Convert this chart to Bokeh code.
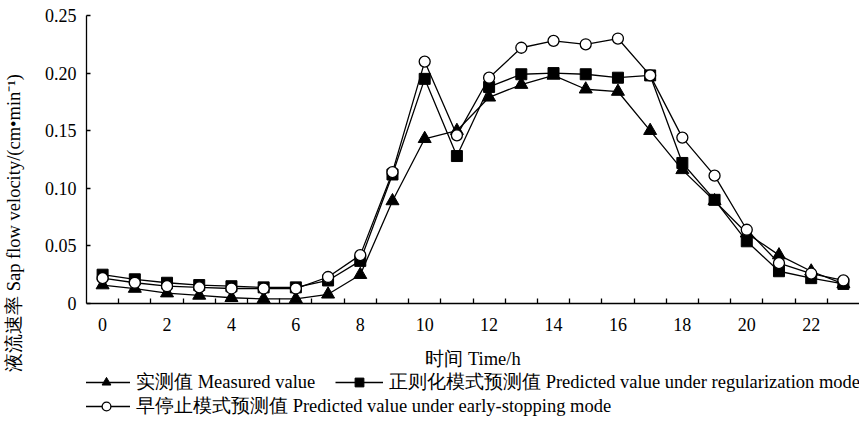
from bokeh.plotting import figure
from bokeh.models import FixedTicker, Legend, LegendItem, Range1d
from bokeh.embed import file_html
from bokeh.resources import INLINE

# ---- data ----
hours = list(range(24))
measured = [0.016, 0.013, 0.009, 0.007, 0.005, 0.004, 0.004, 0.008, 0.025, 0.089,
            0.143, 0.150, 0.179, 0.190, 0.198, 0.186, 0.184, 0.150, 0.116, 0.089,
            0.061, 0.042, 0.028, 0.017]
regularization = [0.025, 0.021, 0.018, 0.016, 0.015, 0.014, 0.014, 0.020, 0.037, 0.112,
                  0.195, 0.128, 0.188, 0.199, 0.200, 0.199, 0.196, 0.198, 0.122, 0.090,
                  0.054, 0.028, 0.022, 0.017]
early_stopping = [0.022, 0.018, 0.015, 0.014, 0.013, 0.013, 0.013, 0.023, 0.042, 0.114,
                  0.210, 0.146, 0.196, 0.222, 0.228, 0.225, 0.230, 0.198, 0.144, 0.111,
                  0.064, 0.035, 0.026, 0.020]
x_tick_values = [0, 2, 4, 6, 8, 10, 12, 14, 16, 18, 20, 22]
x_minor_ticks = [h + 0.5 for h in range(23)]
y_tick_values = [0, 0.05, 0.10, 0.15, 0.20, 0.25]
y_tick_labels = ["0", "0.05", "0.10", "0.15", "0.20", "0.25"]
label_measured = "实测值 Measured value"
label_reg = "正则化模式预测值 Predicted value under regularization mode"
label_early = "早停止模式预测值 Predicted value under early-stopping mode"
x_title = "时间 Time/h"
y_title = "液流速率 Sap flow velocity/(cm•min⁻¹)"

FONT = "Liberation Serif"

# frame spans to the bottom of the canvas; the value axis occupies 0..0.25
Y_TOP = 0.25
Y_BOTTOM = -127 / 1152.0

p = figure(width=859, height=430, output_backend="svg", toolbar_location=None,
           x_range=Range1d(-0.5, 23.5), y_range=Range1d(Y_BOTTOM, Y_TOP),
           min_border_left=83, min_border_right=0, min_border_top=15, min_border_bottom=0)
p.outline_line_color = None
p.xgrid.visible = False
p.ygrid.visible = False
p.background_fill_color = "white"

lw = 1.3
r1l = p.line(hours, measured, line_color="black", line_width=lw)
r1m = p.scatter(hours, measured, marker="triangle", size=13, fill_color="black", line_color="black")
r2l = p.line(hours, regularization, line_color="black", line_width=lw)
r2m = p.scatter(hours, regularization, marker="square", size=11, fill_color="black", line_color="black")
r3l = p.line(hours, early_stopping, line_color="black", line_width=lw)
r3m = p.scatter(hours, early_stopping, marker="circle", size=11, fill_color="white",
                line_color="black", line_width=lw)

# x axis, pinned at y = 0
xa = p.xaxis[0]
xa.fixed_location = 0
xa.ticker = FixedTicker(ticks=x_tick_values, minor_ticks=x_minor_ticks)
xa.major_tick_line_color = None
xa.minor_tick_in = 5
xa.minor_tick_out = 0
xa.minor_tick_line_width = lw
xa.minor_tick_line_color = "black"
xa.axis_line_width = lw
xa.axis_line_color = "black"
xa.major_label_text_font = FONT
xa.major_label_text_font_size = "18px"
xa.major_label_text_color = "black"
xa.major_label_standoff = 8
xa.axis_label = x_title
xa.axis_label_text_font = FONT
xa.axis_label_text_font_size = "18.5px"
xa.axis_label_text_font_style = "normal"
xa.axis_label_text_color = "black"
xa.axis_label_standoff = 15

# y axis
ya = p.yaxis[0]
ya.bounds = (0, Y_TOP)
ya.ticker = FixedTicker(ticks=y_tick_values, minor_ticks=[])
ya.major_label_overrides = {v: l for v, l in zip(y_tick_values, y_tick_labels)}
ya.major_tick_in = 4
ya.major_tick_out = 0
ya.major_tick_line_width = lw
ya.major_tick_line_color = "black"
ya.axis_line_width = lw
ya.axis_line_color = "black"
ya.major_label_text_font = FONT
ya.major_label_text_font_size = "18px"
ya.major_label_text_color = "black"
ya.major_label_standoff = 10
ya.axis_label = y_title
ya.axis_label_text_font = FONT
ya.axis_label_text_font_size = "18.5px"
ya.axis_label_text_font_style = "normal"
ya.axis_label_text_color = "black"
ya.axis_label_standoff = 18


def make_legend(label, rends, loc):
    return Legend(items=[LegendItem(label=label, renderers=rends)], location=loc,
                  orientation="horizontal", border_line_color=None, background_fill_alpha=0,
                  padding=0, margin=0, glyph_width=48, glyph_height=22, label_standoff=6,
                  label_text_font=FONT, label_text_font_size="18.5px", label_text_color="black")


p.add_layout(make_legend(label_measured, [r1l, r1m], (-4, 36)))
p.add_layout(make_legend(label_reg, [r2l, r2m], (249, 36)))
p.add_layout(make_legend(label_early, [r3l, r3m], (-4, 12)))

open("out.html", "w").write(file_html(p, INLINE))
